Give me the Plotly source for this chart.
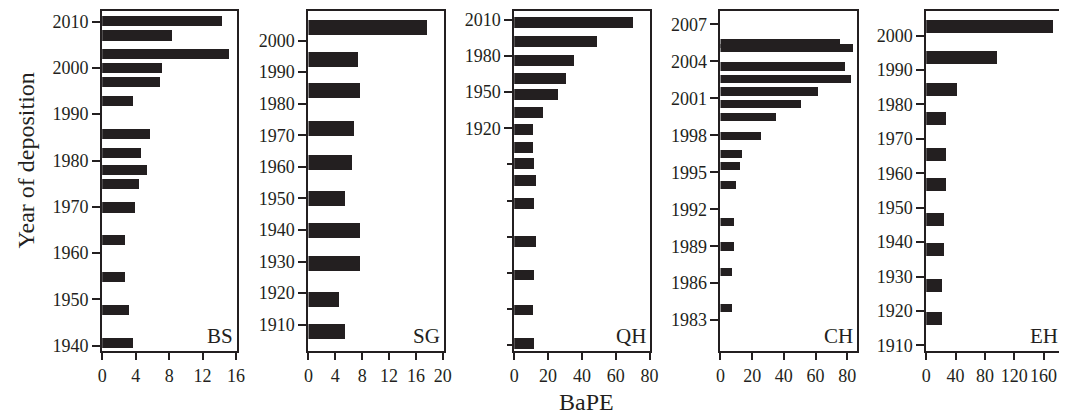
import plotly.graph_objects as go

# ---- data ----
BS_years = [2010.1, 2007.0, 2003.0, 2000.0, 1997.0, 1992.9, 1985.8, 1981.7, 1977.9, 1974.9, 1969.9, 1962.8, 1954.9, 1947.8, 1940.7]
BS_bape = [14.4, 8.4, 15.2, 7.2, 6.9, 3.7, 5.7, 4.7, 5.4, 4.4, 3.9, 2.7, 2.7, 3.2, 3.7]

SG_years = [2004.2, 1994.1, 1984.2, 1972.1, 1961.3, 1950.0, 1939.9, 1929.5, 1918.1, 1907.9]
SG_bape = [17.7, 7.4, 7.8, 6.8, 6.5, 5.5, 7.8, 7.8, 4.6, 5.5]

QH_years = [2008.1, 1991.8, 1976.6, 1961.6, 1948.3, 1933.3, 1918.9, 1904.5, 1890.9, 1876.8, 1857.7, 1826.5, 1798.5, 1769.4, 1741.6]
QH_bape = [70.3, 49.0, 35.5, 30.6, 25.8, 17.1, 11.0, 11.0, 12.0, 13.2, 12.0, 13.2, 12.0, 11.0, 12.0]

CH_years = [2005.46, 2005.10, 2003.6, 2002.57, 2001.56, 2000.53, 1999.5, 1997.96, 1996.5, 1995.5, 1994.0, 1991.0, 1989.0, 1986.9, 1984.0]
CH_bape = [76.0, 84.0, 79.0, 82.7, 61.7, 50.9, 35.1, 26.0, 13.9, 12.7, 10.0, 8.7, 8.7, 7.3, 7.3]

EH_years = [2002.7, 1993.6, 1984.3, 1975.9, 1965.5, 1956.8, 1946.6, 1937.8, 1927.5, 1917.8]
EH_bape = [173.5, 96.4, 41.7, 27.4, 27.4, 27.4, 24.7, 24.7, 21.5, 21.5]

site_names = ["BS", "SG", "QH", "CH", "EH"]

BS_yticks = [1940, 1950, 1960, 1970, 1980, 1990, 2000, 2010]
SG_yticks = [1910, 1920, 1930, 1940, 1950, 1960, 1970, 1980, 1990, 2000]
QH_yticks = [2010, 1980, 1950, 1920]
QH_yticks_unlabeled = [1890, 1860, 1830, 1800, 1770, 1740]
CH_yticks = [1983, 1986, 1989, 1992, 1995, 1998, 2001, 2004, 2007]
EH_yticks = [1910, 1920, 1930, 1940, 1950, 1960, 1970, 1980, 1990, 2000]

BS_xticks = [0, 4, 8, 12, 16]
SG_xticks = [0, 4, 8, 12, 16, 20]
QH_xticks = [0, 20, 40, 60, 80]
CH_xticks = [0, 20, 40, 60, 80]
EH_xticks = [0, 40, 80, 120, 160]

# ---- style / layout ----
W, H = 1068, 420
INK = "#231f20"
FONT = "Liberation Serif"

panels = [
    # years, values, bar thickness (yrs), x pixel box, xrange, yrange, yticks, minor yticks, xticks
    (BS_years, BS_bape, 2.2, (98.5, 235), [0, 16.1], [1938.9, 2012.3], BS_yticks, None, BS_xticks),
    (SG_years, SG_bape, 4.8, (307.5, 445), [0, 20.2], [1901.7, 2009.4], SG_yticks, None, SG_xticks),
    (QH_years, QH_bape, 9.0, (516, 653.5), [0, 80.2], [1735.4, 2017.3], QH_yticks, QH_yticks_unlabeled, QH_xticks),
    (CH_years, CH_bape, 0.68, (725, 863.5), [0, 86.3], [1980.5, 2008.1], CH_yticks, None, CH_xticks),
    (EH_years, EH_bape, 3.8, (933.5, 1068), [0, 181], [1908.4, 2007.2], EH_yticks, None, EH_xticks),
]

y_top_px, y_bot_px = 10, 355
ydom = [1 - y_bot_px / H, 1 - y_top_px / H]

fig = go.Figure()
layout = dict(
    width=W, height=H,
    margin=dict(l=0, r=0, t=0, b=0),
    paper_bgcolor="white", plot_bgcolor="white",
    showlegend=False,
    bargap=0,
    font=dict(family=FONT, color=INK, size=18),
)
annotations = []

for i, (yrs, vals, thick, (x0, x1), xr, yr, yt, ymin, xt) in enumerate(panels):
    n = i + 1
    xa = "x" if n == 1 else f"x{n}"
    ya = "y" if n == 1 else f"y{n}"
    fig.add_trace(go.Bar(
        x=vals, y=yrs, orientation="h", width=thick,
        marker=dict(color=INK, line=dict(width=0)),
        xaxis=xa, yaxis=ya, hoverinfo="x+y",
    ))
    last = (n == 5)
    layout[f"xaxis{n}"] = dict(
        domain=[x0 / W, min(x1 / W, 1.0)], anchor=ya, range=xr,
        tickvals=xt, ticktext=[str(v) for v in xt],
        ticks="outside", ticklen=7, tickwidth=2, tickcolor=INK,
        showline=True, linecolor=INK, linewidth=2, mirror=True,
        showgrid=False, zeroline=False,
        tickfont=dict(family=FONT, size=18, color=INK),
        fixedrange=True,
    )
    yax = dict(
        domain=ydom, anchor=xa, range=yr,
        tickvals=yt, ticktext=[str(v) for v in yt],
        ticks="outside", ticklen=8, tickwidth=2, tickcolor=INK,
        showline=True, linecolor=INK, linewidth=2, mirror=(not last),
        showgrid=False, zeroline=False,
        tickfont=dict(family=FONT, size=18, color=INK),
        fixedrange=True,
    )
    if ymin is not None:
        yax["minor"] = dict(tickvals=ymin, ticks="outside", ticklen=5,
                            tickwidth=2, tickcolor=INK, showgrid=False)
    layout[f"yaxis{n}"] = yax
    annotations.append(dict(
        text=site_names[i], xref="paper", yref="paper",
        x=(x1 - 2) / W if not last else (x1 + 1) / W,
        y=1 - (y_bot_px - 1) / H,
        xanchor="right", yanchor="bottom", showarrow=False,
        font=dict(family=FONT, size=21, color=INK),
    ))

annotations.append(dict(
    text="Year of deposition", xref="paper", yref="paper",
    x=21 / W, y=1 - 162 / H, textangle=-90,
    xanchor="center", yanchor="middle", showarrow=False,
    font=dict(family=FONT, size=24, color=INK),
))
annotations.append(dict(
    text="BaPE", xref="paper", yref="paper",
    x=589 / W, y=1 - 407 / H,
    xanchor="center", yanchor="middle", showarrow=False,
    font=dict(family=FONT, size=24, color=INK),
))
layout["annotations"] = annotations
fig.update_layout(**layout)

fig.write_html(
    "out.html",
    config={"displayModeBar": False},
    post_script="document.body.style.margin='0';document.body.style.overflow='hidden';",
)
